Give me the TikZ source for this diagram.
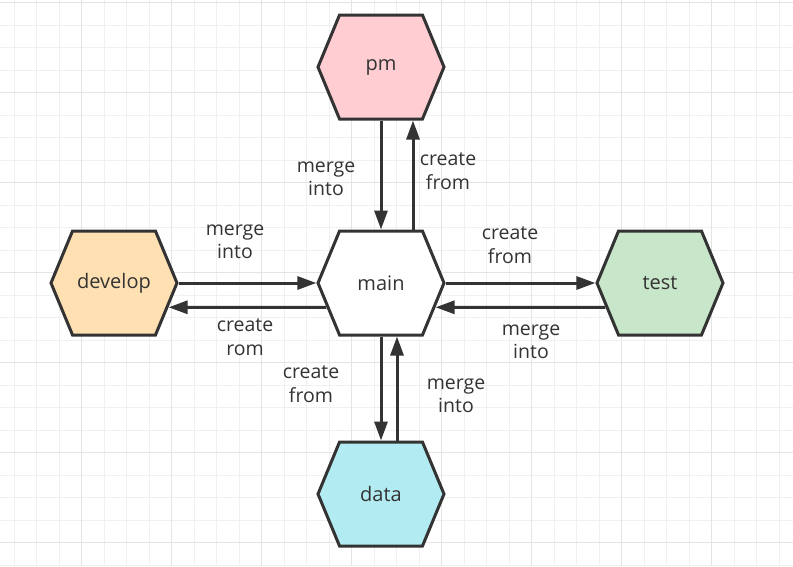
\documentclass[tikz,border=0pt]{standalone}
\usepackage{fontspec}
\setmainfont{Open Sans}
\usetikzlibrary{positioning}
\usetikzlibrary{shapes.symbols}
\usetikzlibrary{arrows.meta}
\definecolor{inkgray}{HTML}{333333}
\definecolor{gridminor}{HTML}{F0F0F0}
\definecolor{gridmajor}{HTML}{E4E4E4}
\definecolor{pmpink}{HTML}{FFCDD2}
\definecolor{devorange}{HTML}{FFE0B2}
\definecolor{testgreen}{HTML}{C8E6C9}
\definecolor{datacyan}{HTML}{B2EBF2}
\tikzset{
  hexa/.style={signal, signal to=west and east, signal pointer angle=135,
    draw=inkgray, line width=3pt, minimum width=126pt, minimum height=104pt,
    inner sep=0pt, text=inkgray, font=\fontsize{20}{24}\selectfont},
  flow/.style={draw=inkgray, line width=3pt, -{Triangle[length=19pt,width=13pt]}},
  lbl/.style={text=inkgray, align=center, inner sep=0pt,
    font=\fontsize{19.5}{23.5}\selectfont}
}

\begin{document}
\begin{tikzpicture}[x=1pt,y=-1pt]
\useasboundingbox (0,0) rectangle (793,566);
\fill[white] (0,0) rectangle (793,566);
\clip (0,0) rectangle (793,566);
\foreach \i in {0,...,35} {
\draw[gridminor, line width=1pt] ({14+22.5*\i},0) -- ({14+22.5*\i},566);
}
\foreach \j in {0,...,25} {
\draw[gridminor, line width=1pt] (0,{2.5+22.5*\j}) -- (793,{2.5+22.5*\j});
}
\foreach \i in {0,...,8} {
\draw[gridmajor, line width=1.1pt] ({-8.5+90*\i},0) -- ({-8.5+90*\i},566);
}
\foreach \j in {0,...,6} {
\draw[gridmajor, line width=1.1pt] (0,{2.5+90*\j}) -- (793,{2.5+90*\j});
}

\node[hexa, fill=white] (main) at (381,283) {main};
\node[hexa, fill=pmpink] (pm) at (381,67) {pm};
\node[hexa, fill=devorange] (develop) at (114,283) {develop};
\node[hexa, fill=testgreen] (test) at (660,283) {test};
\node[hexa, fill=datacyan] (data) at (381,494) {data};

\draw[flow] (pm.south) -- (main.north);
\draw[flow] ([xshift=32pt]main.north) -- ([xshift=32pt]pm.south);
\draw[flow] (develop.east) -- (main.west);
\draw[flow] (main.204) -- (develop.-24);
\draw[flow] (main.east) -- (test.west);
\draw[flow] (test.204) -- (main.-24);
\draw[flow] (main.south) -- (data.north);
\draw[flow] ([xshift=16pt]data.north) -- ([xshift=16pt]main.south);

\node[lbl] (pmmerge) at (326,179) {merge\\into};
\node[lbl] (pmcreate) at (448,171) {create\\from};
\node[lbl] (devmerge) at (235,242) {merge\\into};
\node[lbl] (devcreate) at (245,337) {create\\rom};
\node[lbl] (testcreate) at (510,245) {create\\from};
\node[lbl] (testmerge) at (531,342) {merge\\into};
\node[lbl] (datacreate) at (311,384) {create\\from};
\node[lbl] (datamerge) at (456,396) {merge\\into};
\end{tikzpicture}
\end{document}
